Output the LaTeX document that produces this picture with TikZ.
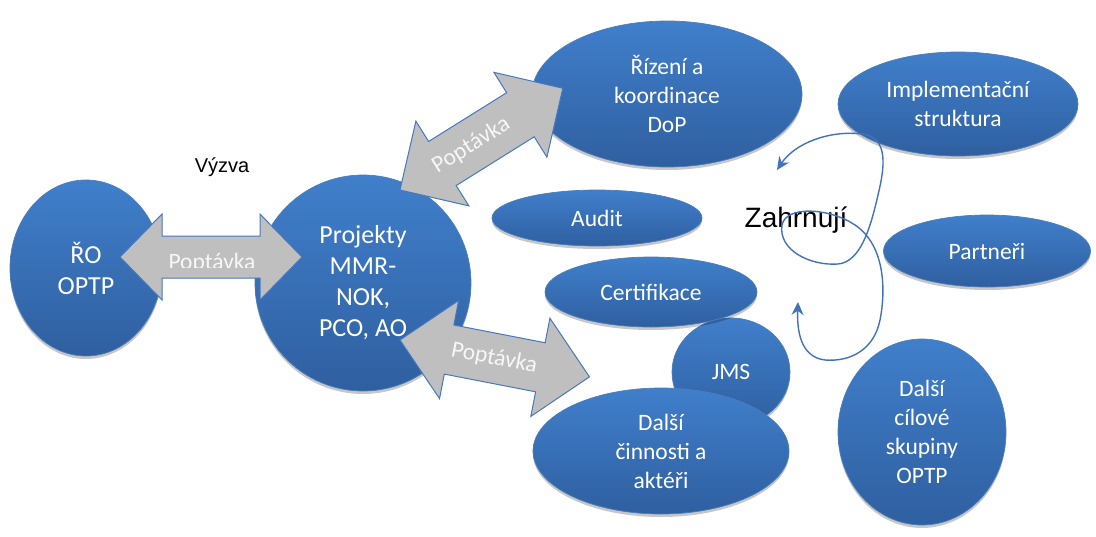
\documentclass[tikz,border=0pt]{standalone}
\usepackage{fontspec}
\setmainfont{Carlito}
\newfontfamily\arialfont{Liberation Sans}
\usetikzlibrary{shapes.geometric,shadows,arrows.meta}
\definecolor{bubtop}{RGB}{64,127,203}
\definecolor{bubbot}{RGB}{47,95,160}
\definecolor{bubedge}{RGB}{74,126,187}
\definecolor{arrfill}{RGB}{191,191,191}
\definecolor{arredge}{RGB}{70,120,190}
\definecolor{curvecol}{RGB}{66,114,188}
\newcommand\blockarr[4]{% L, head half-width, shaft half-width, head length
  \draw[arrstyle] (0,0) -- (#4,-#2) -- (#4,-#3) -- (#1-#4,-#3) -- (#1-#4,-#2) -- (#1,0)
    -- (#1-#4,#2) -- (#1-#4,#3) -- (#4,#3) -- (#4,#2) -- cycle;}
\tikzset{
  bub/.style={ellipse, draw=bubedge, line width=0.7pt, top color=bubtop, bottom color=bubbot,
    text=white, align=center, inner sep=0pt,
    font=\fontsize{23.5}{29}\selectfont,
    drop shadow={shadow xshift=0pt, shadow yshift=-3pt, opacity=0.22, fill=black}},
  bigbub/.style={bub, font=\fontsize{26}{31}\selectfont},
  arrstyle/.style={fill=arrfill, draw=arredge, line width=1pt, line join=miter},
  arrlabel/.style={text=white!94!gray, font=\fontsize{23.5}{28}\selectfont, inner sep=0pt},
}
\begin{document}
\begin{tikzpicture}[x=1pt,y=-1pt]
\useasboundingbox (0,0) rectangle (1096,536);
% bubbles
\node[bigbub, minimum width=152, minimum height=176] (ro) at (86,268) {ŘO\\OPTP};
\node[bigbub, minimum width=216, minimum height=216] (proj) at (363,283) {Projekty\\MMR-\\NOK,\\PCO, AO};
\node[bub, minimum width=270, minimum height=146] (rizeni) at (667,94) {Řízení a\\koordinace\\DoP};
\node[bub, minimum width=240, minimum height=104] (impl) at (958,104) {Implementační\\struktura};
\node[bub, minimum width=210, minimum height=56] (audit) at (597,218) {Audit};
\node[bub, minimum width=118, minimum height=108] (jms) at (731,372) {JMS};
\node[bub, minimum width=212, minimum height=70] (cert) at (651,292) {Certifikace};
\node[bub, minimum width=207, minimum height=72] (partneri) at (987,251) {Partneři};
\node[bub, minimum width=256, minimum height=126] (dalsi) at (661,451) {Další\\činnosti a\\aktéři};
\node[bub, minimum width=168, minimum height=186] (cilove) at (922,432) {Další\\cílové\\skupiny\\OPTP};
% block arrows
\begin{scope}[shift={(120,257)}]
  \blockarr{182}{43}{21}{42}
  \begin{scope}
    \clip (40,-30) rectangle (150,10);
    \node[arrlabel] (p1) at (92,6) {Poptávka};
  \end{scope}
\end{scope}
\begin{scope}[shift={(400,190)}, rotate=32]
  \blockarr{192}{50}{26}{50}
  \node[arrlabel, rotate=32] (p2) at (84,0) {Poptávka};
\end{scope}
\begin{scope}[shift={(400,340)}, rotate=-11]
  \blockarr{193}{50}{25}{50}
  \node[arrlabel, rotate=-11] (p3) at (96,0) {Poptávka};
\end{scope}
% texts
\node[font=\arialfont\fontsize{20}{24}\selectfont, inner sep=0pt] (vyzva) at (222,167) {Výzva};
\node[font=\arialfont\fontsize{28}{32}\selectfont, inner sep=0pt] (zahr) at (796,220) {Zahrnují};
% curve
\coordinate (ca) at (777,170);
\coordinate (cb) at (798,302);
\draw[curvecol, line width=1.4pt, {Stealth[length=13pt,width=12pt]}-{Stealth[length=13pt,width=12pt]}]
  (ca) .. controls (795,143) and (830,130) .. (862,134)
  .. controls (890,137) and (884,170) .. (878,195)
  .. controls (870,230) and (860,262) .. (838,264)
  .. controls (810,266) and (778,250) .. (782,225)
  .. controls (786,205) and (830,208) .. (855,225)
  .. controls (885,245) and (886,290) .. (880,320)
  .. controls (874,350) and (850,362) .. (825,360)
  .. controls (800,357) and (797,330) .. (cb);
\end{tikzpicture}
\end{document}
